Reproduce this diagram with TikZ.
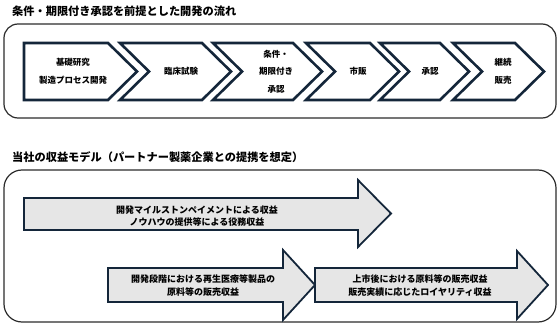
\documentclass[tikz,border=0pt]{standalone}
\usepackage{fontspec}
\setmainfont{Noto Sans CJK JP}
\usetikzlibrary{calc}
\definecolor{chevline}{HTML}{14263A}
\definecolor{arrowfill}{HTML}{E6E6E6}
\definecolor{panelline}{HTML}{2B2B2B}
\tikzset{
  panel/.style={
    draw=panelline,
    line width=1.2pt,
    rounded corners=14pt,
  },
  chev/.style={draw=chevline, fill=white, line width=2.6pt, line join=miter},
  chevtext/.style={
    align=center,
    font=\bfseries\fontsize{8.5}{17.5}\selectfont,
    inner sep=0pt,
  },
  bigarrow/.style={draw=chevline, fill=arrowfill, line width=1.8pt, line join=miter},
  arrowtext/.style={
    align=center,
    font=\bfseries\fontsize{9}{12.5}\selectfont,
    inner sep=0pt,
  },
  heading/.style={anchor=west, font=\bfseries\fontsize{11.2}{13}\selectfont, inner sep=0pt},
}
% chevron: [notch depth]{name}{left x}{right x}{text x}{text}
\newcommand{\chevron}[6][29]{%
  \draw[chev] (#3,43) -- (#4,43) -- ++(29,28.5) -- (#4,100) -- (#3,100) -- ++(#1,-28.5) -- cycle;
  \node[chevtext] (#2) at (#5,71.5) {#6};
}

\begin{document}
\begin{tikzpicture}[x=1pt, y=-1pt]
\useasboundingbox (0,0) rectangle (560,326);

% --- Development flow -------------------------------------------------
\node[heading] (flowtitle) at (12,11) {条件・期限付き承認を前提とした開発の流れ};
\draw[panel] (4,24) rectangle (556,118);

\chevron[0]{c01}{24}{108}{73}{基礎研究\\製造プロセス開発}
\chevron{c02}{120}{202}{181}{臨床試験}
\chevron{c03}{213}{293}{276}{条件・\\期限付き\\承認}
\chevron{c04}{306}{370}{358}{市販}
\chevron{c05}{380}{440}{430}{承認}
\chevron{c06}{453}{515}{503}{継続\\販売}

% --- Revenue model ----------------------------------------------------
\node[heading] (modeltitle) at (12,157) {当社の収益モデル（パートナー製薬企業との提携を想定）};
\draw[panel, rounded corners=18pt] (4,170) rectangle (556,322);

% Row 1
\draw[bigarrow] (24,198) -- (358,198) -- (358,180) -- (391,213.5) -- (358,247)
  -- (358,230) -- (24,230) -- cycle;
\node[arrowtext] (r01) at (197,216) {開発マイルストンペイメントによる収益\\ノウハウの提供等による役務収益};

% Row 2 (left to right)
\draw[bigarrow] (108,268) -- (283,268) -- (283,250) -- (315,285) -- (283,320)
  -- (283,302) -- (108,302) -- cycle;
\node[arrowtext] (r02) at (203,285.5) {開発段階における再生医療等製品の\\原料等の販売収益};
\draw[bigarrow] (315,268) -- (517,268) -- (517,251) -- (548,285) -- (517,319)
  -- (517,302) -- (315,302) -- cycle;
\node[arrowtext] (r03) at (420,285.5) {上市後における原料等の販売収益\\販売実績に応じたロイヤリティ収益};

\end{tikzpicture}
\end{document}
